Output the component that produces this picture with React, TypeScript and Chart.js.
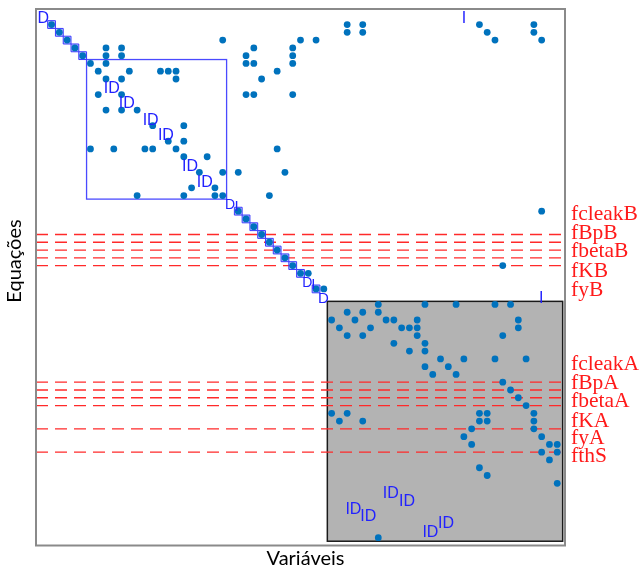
import { useEffect, useRef } from "react";
import { Chart, registerables } from "chart.js";

Chart.register(...registerables);

// Axis extents (variables + 1, equations + 1)
const X_MAX = 68;
const Y_MAX = 69;

// Nonzero pattern, equations 1–37 (row index, variable columns)
const upperEq = [2, 3, 4, 5, 6, 7, 8, 9, 11, 13, 15, 17, 18, 19, 21, 23, 24, 26, 27, 28, 29, 30, 31, 32, 33, 34, 36];
const upperVars = [
  [2, 40, 42, 57, 64],
  [3, 40, 42, 58, 64],
  [4, 24, 34, 36, 59, 65],
  [5, 9, 11, 28, 33],
  [6, 9, 11, 27, 33],
  [7, 9, 27, 28, 33],
  [8, 12, 16, 17, 18, 31],
  [9, 11, 18, 29],
  [8, 11, 27, 28, 33],
  [9, 11, 13],
  [15, 19],
  [17, 19],
  [7, 10, 14, 15, 18, 31],
  [19, 22],
  [21, 24, 26, 32],
  [20, 23],
  [13, 19, 23, 24, 30],
  [26, 65],
  [27],
  [28],
  [29],
  [30],
  [31],
  [32],
  [33, 60],
  [34, 35],
  [36, 37],
];

// Nonzero pattern, equations 38–68
const lowerEq = [38, 39, 40, 41, 42, 43, 44, 45, 46, 47, 48, 49, 50, 51, 52, 53, 54, 55, 56, 57, 58, 59, 60, 61, 68];
const lowerVars = [
  [44, 50, 54, 59, 61],
  [40, 42, 44],
  [38, 41, 45, 46, 49, 62],
  [39, 43, 47, 48, 49, 62],
  [40, 42, 49, 60],
  [46, 50],
  [48, 50],
  [52, 55, 59, 63],
  [50, 53],
  [51, 54],
  [60],
  [61],
  [62],
  [63],
  [38, 40, 57, 58, 64],
  [39, 42, 57, 58, 64],
  [56, 64],
  [55, 65],
  [56, 66, 67],
  [65, 67],
  [66],
  [57],
  [58],
  [67],
  [44],
];

// Highlighted diagonal cells
const highlightedDiag = [2, 3, 4, 5, 6, 26, 27, 28, 29, 30, 31, 32, 33, 34, 36];

// Block boxes [x0, y0, x1, y1] in matrix units
const blueBox = [6.5, 6.5, 24.5, 24.45];
const grayBox = [37.45, 37.6, 67.7, 68.45];

// Red dashed rows and their labels
const linesB = [29, 30, 31, 32, 33];
const linesA = [48, 49, 50, 51, 54, 57];
const labelsB = ["fcleakB", "fBpB", "fbetaB", "fKB", "fyB"];
const labelsBRow = [27.16, 29.6, 31.92, 34.49, 36.93];
const labelsA = ["fcleakA", "fBpA", "fbetaA", "fKA", "fyA", "fthS"];
const labelsARow = [46.46, 48.9, 51.22, 53.8, 56.0, 58.3];

// Block tags
const idCols = [9.73, 11.66, 14.74, 16.7, 19.8, 21.7, 45.6, 47.7, 40.8, 42.7, 50.7, 52.7];
const idRows = [10.2, 12.14, 14.29, 16.3, 20.3, 22.35, 62.3, 63.3, 64.35, 65.3, 67.3, 66.2];
const dCols = [0.94, 36.95, 24.94, 34.87];
const dRows = [1.2, 37.23, 25.2, 35.3];
const dSizes = [16, 15, 14, 14];
const iCols = [55.0, 64.95, 25.77, 35.64];
const iRows = [1.26, 37.28, 25.48, 35.52];
const iSizes = [16, 16, 15, 15];

const xTitle = "Variáveis";
const yTitle = "Equações";

function buildPoints(eqs: number[], vars: number[][]) {
  const pts: { x: number; y: number }[] = [];
  eqs.forEach((r, i) => vars[i].forEach((c) => pts.push({ x: c, y: r })));
  return pts;
}

const overlayPlugin = {
  id: "spyOverlay",
  beforeDatasetsDraw(chart: any) {
    const { ctx, chartArea } = chart;
    const x = chart.scales.x;
    const y = chart.scales.y;
    ctx.save();
    // gray block
    const gx0 = x.getPixelForValue(grayBox[0]);
    const gy0 = y.getPixelForValue(grayBox[1]);
    const gx1 = x.getPixelForValue(grayBox[2]);
    const gy1 = y.getPixelForValue(grayBox[3]);
    ctx.fillStyle = "#b3b3b3";
    ctx.fillRect(gx0, gy0, gx1 - gx0, gy1 - gy0);
    ctx.strokeStyle = "#1a1a1a";
    ctx.lineWidth = 1.5;
    ctx.strokeRect(gx0, gy0, gx1 - gx0, gy1 - gy0);
    // blue block
    const bx0 = x.getPixelForValue(blueBox[0]);
    const by0 = y.getPixelForValue(blueBox[1]);
    const bx1 = x.getPixelForValue(blueBox[2]);
    const by1 = y.getPixelForValue(blueBox[3]);
    ctx.strokeStyle = "#4a4aff";
    ctx.lineWidth = 1.3;
    ctx.strokeRect(bx0, by0, bx1 - bx0, by1 - by0);
    // dashed lines
    ctx.strokeStyle = "#ff2a2a";
    ctx.lineWidth = 1.3;
    ctx.setLineDash([12, 7]);
    const xr = x.getPixelForValue(67.6);
    [...linesB, ...linesA].forEach((r) => {
      const py = y.getPixelForValue(r);
      ctx.beginPath();
      ctx.moveTo(chartArea.left, py);
      ctx.lineTo(xr, py);
      ctx.stroke();
    });
    ctx.restore();
  },
  afterDatasetsDraw(chart: any) {
    const { ctx, chartArea } = chart;
    const x = chart.scales.x;
    const y = chart.scales.y;
    ctx.save();
    ctx.fillStyle = "#2222ff";
    ctx.textAlign = "center";
    ctx.textBaseline = "middle";
    ctx.font = "16px 'Liberation Sans', Arial, sans-serif";
    idCols.forEach((c, i) => {
      ctx.fillText("ID", x.getPixelForValue(c), y.getPixelForValue(idRows[i]));
    });
    dCols.forEach((c, i) => {
      ctx.font = `${dSizes[i]}px 'Liberation Sans', Arial, sans-serif`;
      ctx.fillText("D", x.getPixelForValue(c), y.getPixelForValue(dRows[i]));
    });
    iCols.forEach((c, i) => {
      ctx.font = `${iSizes[i]}px 'Liberation Sans', Arial, sans-serif`;
      ctx.fillText("I", x.getPixelForValue(c), y.getPixelForValue(iRows[i]));
    });
    // frame
    ctx.strokeStyle = "#8a8a8a";
    ctx.lineWidth = 2;
    ctx.strokeRect(chartArea.left, chartArea.top, chartArea.right - chartArea.left, chartArea.bottom - chartArea.top);
    // red labels
    ctx.fillStyle = "#ff1a1a";
    ctx.textAlign = "left";
    ctx.textBaseline = "alphabetic";
    ctx.font = "21.5px 'Liberation Serif', 'Times New Roman', serif";
    labelsB.forEach((t, i) => ctx.fillText(t, chartArea.right + 6, y.getPixelForValue(labelsBRow[i])));
    labelsA.forEach((t, i) => ctx.fillText(t, chartArea.right + 6, y.getPixelForValue(labelsARow[i])));
    // axis titles
    ctx.fillStyle = "#000";
    ctx.textAlign = "center";
    ctx.textBaseline = "middle";
    ctx.font = "20px Lato, 'Open Sans', sans-serif";
    ctx.fillText(xTitle, (chartArea.left + chartArea.right) / 2 + 5, chartArea.bottom + 13);
    ctx.translate(15, 261);
    ctx.rotate(-Math.PI / 2);
    ctx.fillText(yTitle, 0, 0);
    ctx.restore();
  },
};

export default function App() {
  const ref = useRef<HTMLCanvasElement | null>(null);
  useEffect(() => {
    if (!ref.current) return;
    const dots = [...buildPoints(upperEq, upperVars), ...buildPoints(lowerEq, lowerVars)];
    const squares = highlightedDiag.map((d) => ({ x: d, y: d }));
    const chart = new Chart(ref.current, {
      type: "scatter",
      data: {
        datasets: [
          {
            data: dots,
            backgroundColor: "#0072BD",
            borderWidth: 0,
            pointRadius: 3.4,
            order: 1,
          },
          {
            data: squares,
            pointStyle: "rect",
            pointRadius: 5.5,
            backgroundColor: "rgba(120,120,255,0.45)",
            borderColor: "#3a3aff",
            borderWidth: 1,
            order: 2,
          },
        ],
      },
      options: {
        animation: false,
        responsive: false,
        events: [],
        layout: { padding: { left: 36, top: 9, right: 74, bottom: 23.5 } },
        scales: {
          x: { type: "linear", min: 0, max: X_MAX, display: false },
          y: { type: "linear", min: 0, max: Y_MAX, reverse: true, display: false },
        },
        plugins: { legend: { display: false }, tooltip: { enabled: false } },
      },
      plugins: [overlayPlugin],
    });
    return () => chart.destroy();
  }, []);
  return (
    <div style={{ position: "fixed", left: 0, top: 0, width: 639, height: 569, background: "#fff" }}>
      <canvas ref={ref} width={639} height={569} />
    </div>
  );
}
